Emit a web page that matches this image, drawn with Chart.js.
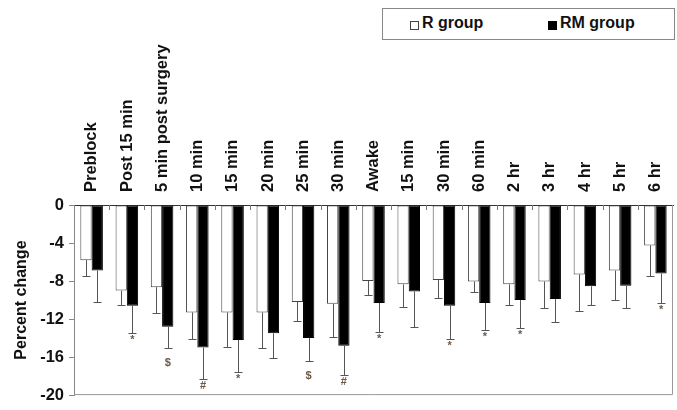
<!DOCTYPE html>
<html>
<head>
<meta charset="utf-8">
<script src="https://cdn.jsdelivr.net/npm/chart.js@4.4.0/dist/chart.umd.min.js"></script>
<style>
  html, body { margin: 0; padding: 0; background: #fff; }
  #wrap { position: relative; width: 677px; height: 410px; }
  #legend {
    position: absolute; left: 382px; top: 8px; width: 291px; height: 30px;
    border: 1px solid #888; background: #fff;
    font: bold 16px "Liberation Sans", Arial, sans-serif; color: #111;
  }
  #legend span.sw { position: absolute; top: 12px; width: 7px; height: 7px; border: 1px solid #444; }
  #legend span.tx { position: absolute; top: 5px; white-space: nowrap; }
</style>
</head>
<body>
<div id="wrap">
  <canvas id="c" width="677" height="410"></canvas>
  <div id="legend">
    <span class="sw" style="left:27px;background:#fff"></span><span class="tx" style="left:39px">R group</span>
    <span class="sw" style="left:165px;background:#000;border-color:#000"></span><span class="tx" style="left:177px">RM group</span>
  </div>
</div>
<script>
const categories = ["Preblock", "Post 15 min", "5 min post surgery", "10 min", "15 min", "20 min", "25 min", "30 min",
  "Awake", "15 min", "30 min", "60 min", "2 hr", "3 hr", "4 hr", "5 hr", "6 hr"];
const seriesNames = ["R group", "RM group"];
const rGroup   = [-5.8, -9.0, -8.65, -11.3, -11.3, -11.3, -10.2, -10.4, -8.0, -8.35, -7.9, -8.05, -8.35, -8.05, -7.3, -6.9, -4.25];
const rGroupErrEnd = [-7.5, -10.5, -11.4, -14.1, -14.9, -15.05, -12.2, -13.9, -9.5, -10.7, -9.8, -9.2, -10.5, -10.8, -11.2, -10.0, -7.5];
const rmGroup  = [-6.9, -10.6, -12.8, -15.0, -14.2, -13.5, -14.0, -14.8, -10.3, -9.1, -10.6, -10.3, -10.0, -9.9, -8.55, -8.5, -7.2];
const rmGroupErrEnd = [-10.2, -13.5, -15.05, -18.35, -17.6, -16.1, -16.4, -17.9, -13.4, -12.8, -14.1, -13.2, -12.9, -12.3, -10.5, -10.8, -10.3];
const rmMarks = ["", "*", "$", "#", "*", "", "$", "#", "*", "", "*", "*", "*", "", "", "", "*"];
const yTicks = [0, -4, -8, -12, -16, -20];

const errEnds = [rGroupErrEnd, rmGroupErrEnd];

const decorPlugin = {
  id: 'decor',
  afterDatasetsDraw(chart) {
    const ctx = chart.ctx;
    const ca = chart.chartArea;
    const y = chart.scales.y;
    const x = chart.scales.x;
    ctx.save();
    ctx.strokeStyle = '#999';
    ctx.lineWidth = 1;
    ctx.beginPath();
    ctx.moveTo(ca.right - 0.5, ca.top);
    ctx.lineTo(ca.right - 0.5, ca.bottom - 0.5);
    ctx.lineTo(ca.left, ca.bottom - 0.5);
    ctx.stroke();
    ctx.strokeStyle = '#777';
    ctx.beginPath();
    const n = categories.length;
    const w = (ca.right - ca.left) / n;
    for (let i = 1; i < n; i++) {
      const px = Math.round(x.getPixelForValue(i) - w / 2) + 0.5;
      ctx.moveTo(px, ca.top);
      ctx.lineTo(px, ca.top + 5);
    }
    ctx.stroke();
    ctx.strokeStyle = '#555';
    ctx.lineWidth = 1;
    chart.data.datasets.forEach((ds, di) => {
      const meta = chart.getDatasetMeta(di);
      meta.data.forEach((bar, i) => {
        const bx = Math.round(bar.x) + 0.5;
        const y0 = y.getPixelForValue(ds.data[i]);
        const y1 = Math.round(y.getPixelForValue(errEnds[di][i])) + 0.5;
        ctx.beginPath();
        ctx.moveTo(bx, y0);
        ctx.lineTo(bx, y1);
        ctx.moveTo(bx - 4, y1);
        ctx.lineTo(bx + 4, y1);
        ctx.stroke();
      });
    });
    const meta1 = chart.getDatasetMeta(1);
    ctx.fillStyle = '#6b5a4a';
    ctx.font = 'bold 11px "Liberation Sans", Arial, sans-serif';
    ctx.textAlign = 'center';
    ctx.textBaseline = 'middle';
    rmMarks.forEach((m, i) => {
      if (!m) return;
      const bx = meta1.data[i].x;
      const y1 = y.getPixelForValue(rmGroupErrEnd[i]);
      const off = (m === '$') ? 15 : 7;
      ctx.fillText(m, bx, y1 + off);
    });
    ctx.restore();
  }
};

new Chart(document.getElementById('c'), {
  type: 'bar',
  data: {
    labels: categories,
    datasets: [
      { label: seriesNames[0], data: rGroup, backgroundColor: '#ffffff', borderColor: '#444', borderWidth: 1, borderSkipped: false },
      { label: seriesNames[1], data: rmGroup, backgroundColor: '#000000', borderColor: '#000', borderWidth: 1, borderSkipped: false }
    ]
  },
  options: {
    responsive: false,
    animation: false,
    layout: { padding: { left: 2, right: 4, top: 0, bottom: 7 } },
    plugins: { legend: { display: false }, tooltip: { enabled: false } },
    datasets: { bar: { categoryPercentage: 0.64, barPercentage: 1.0 } },
    scales: {
      x: {
        position: 'top',
        offset: true,
        grid: { display: false, drawTicks: false },
        border: { display: true, color: '#333', width: 1 },
        ticks: {
          autoSkip: false, maxRotation: 90, minRotation: 90, padding: 13, labelOffset: 20,
          color: '#111', font: { family: '"Liberation Sans", Arial, sans-serif', size: 16.5, weight: 'bold' }
        },
        afterFit(scale) { scale.height = 205; }
      },
      y: {
        min: -20, max: 0,
        afterBuildTicks(scale) { scale.ticks = yTicks.map(v => ({ value: v })); },
        grid: { drawOnChartArea: false, drawTicks: true, tickLength: 5, color: '#888' },
        border: { display: true, color: '#888', width: 1 },
        ticks: {
          padding: 5, color: '#111',
          font: { family: '"Liberation Sans", Arial, sans-serif', size: 16.5, weight: 'bold' }
        },
        title: {
          display: true, text: 'Percent change', color: '#111', padding: { top: 10, bottom: 0 },
          font: { family: '"Liberation Sans", Arial, sans-serif', size: 16, weight: 'bold' }
        },
        afterFit(scale) { scale.width = 72; }
      }
    }
  },
  plugins: [decorPlugin]
});
</script>
</body>
</html>
